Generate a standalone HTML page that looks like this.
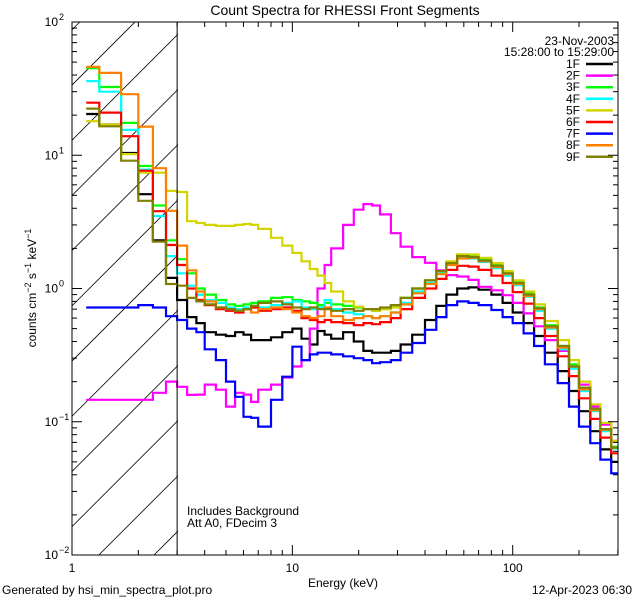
<!DOCTYPE html>
<html><head><meta charset="utf-8"><style>
html,body{margin:0;background:#fff;width:640px;height:600px;overflow:hidden;}
svg{display:block;font-family:"Liberation Sans",sans-serif;overflow:hidden;}
</style></head><body>
<svg id="chart" width="640" height="600" viewBox="0 0 640 600" xmlns="http://www.w3.org/2000/svg">
<rect width="640" height="600" fill="#fff"/>
<text x="345" y="15" font-size="14" text-anchor="middle">Count Spectra for RHESSI Front Segments</text>
<defs><clipPath id="hclip"><rect x="72" y="22" width="106" height="533"/></clipPath><clipPath id="pclip"><rect x="72" y="22" width="546" height="533"/></clipPath></defs>
<g id="hatch" clip-path="url(#hclip)"></g>
<g id="series" clip-path="url(#pclip)"></g>
<g id="axes"></g>
<text transform="translate(36,288) rotate(-90)" font-size="12" text-anchor="middle">counts cm<tspan dy="-5" font-size="9">−2</tspan><tspan dy="5"> s</tspan><tspan dy="-5" font-size="9">−1</tspan><tspan dy="5"> keV</tspan><tspan dy="-5" font-size="9">−1</tspan></text>
<text x="343" y="587" font-size="12" text-anchor="middle">Energy (keV)</text>
<text x="187" y="515" font-size="12">Includes Background</text>
<text x="187" y="527" font-size="12">Att A0, FDecim 3</text>
<text x="2" y="594" font-size="12">Generated by hsi_min_spectra_plot.pro</text>
<text x="632" y="594" font-size="12" text-anchor="end">12-Apr-2023 06:30</text>
<text x="614" y="45" font-size="12" text-anchor="end">23-Nov-2003</text>
<text x="614" y="56" font-size="12" text-anchor="end">15:28:00 to 15:29:00</text>
<g id="legend"></g>
</svg>
<script>
const edges = [1.16,1.33,1.67,2,2.33,2.67,3,3.33,3.67,4,4.5,5,5.5,6,6.5,7,8,9,10,11,12,13,14,15,17,19,21,23,25,28,31,35,40,45,50,56,63,70,80,90,100,112,125,140,160,180,200,225,250,280,300];
const seriesNames = ["1F","2F","3F","4F","5F","6F","7F","8F","9F"];
const seriesColors = ["#000000","#ff00ff","#00ff00","#00ffff","#d4d400","#ff0000","#0000ff","#ff8000","#808000"];
const s1F = [20.4,17,10.4,5.1,2.3,1.2,0.82,0.61,0.55,0.47,0.45,0.44,0.47,0.45,0.41,0.41,0.43,0.47,0.5,0.42,0.38,0.48,0.45,0.42,0.47,0.4,0.34,0.33,0.33,0.34,0.38,0.45,0.58,0.74,0.9,1.0,1.02,0.98,0.9,0.78,0.66,0.55,0.44,0.33,0.24,0.17,0.12,0.085,0.062,0.05];
const s2F = [0.146,0.146,0.146,0.146,0.165,0.2,0.183,0.159,0.16,0.19,0.174,0.13,0.165,0.16,0.141,0.174,0.19,0.215,0.26,0.29,0.5,1.0,1.5,2.0,3.0,3.9,4.3,4.2,3.6,2.6,2.06,1.72,1.56,1.37,1.26,1.23,1.16,1.03,0.97,0.89,0.78,0.65,0.52,0.41,0.34,0.26,0.19,0.13,0.095,0.072];
const s3F = [45,32.5,17.5,8.3,4.2,2.3,1.66,1.3,1.0,0.9,0.82,0.76,0.74,0.76,0.78,0.8,0.85,0.86,0.82,0.8,0.78,0.75,0.78,0.76,0.74,0.72,0.7,0.68,0.7,0.75,0.85,1.0,1.15,1.35,1.55,1.8,1.75,1.65,1.5,1.32,1.12,0.92,0.72,0.53,0.37,0.27,0.18,0.125,0.088,0.065];
const s4F = [36,30,15.5,7.8,3.5,1.75,1.3,1.05,0.9,0.82,0.78,0.72,0.7,0.72,0.74,0.72,0.75,0.78,0.8,0.72,0.7,0.72,0.82,0.7,0.66,0.64,0.62,0.6,0.62,0.66,0.78,0.95,1.1,1.3,1.5,1.7,1.68,1.58,1.42,1.25,1.06,0.87,0.68,0.5,0.35,0.25,0.17,0.12,0.085,0.063];
const s5F = [18,17,10.2,7.4,7.4,5.4,5.3,3.2,3.1,3.0,2.95,2.95,3.0,3.05,3.0,2.8,2.4,2.1,1.85,1.6,1.4,1.25,1.1,0.95,0.8,0.73,0.7,0.68,0.7,0.72,0.85,1.0,1.15,1.35,1.6,1.8,1.8,1.7,1.55,1.35,1.15,0.95,0.76,0.57,0.41,0.29,0.2,0.135,0.098,0.072];
const s6F = [24.8,20.9,13.9,7.66,3.8,2.12,1.5,1.0,0.82,0.75,0.7,0.68,0.66,0.7,0.72,0.68,0.7,0.72,0.68,0.6,0.58,0.56,0.58,0.56,0.55,0.53,0.55,0.54,0.56,0.6,0.7,0.85,1.0,1.18,1.38,1.48,1.46,1.38,1.25,1.1,0.94,0.77,0.6,0.44,0.31,0.22,0.15,0.105,0.076,0.058];
const s7F = [0.72,0.72,0.72,0.75,0.72,0.62,0.58,0.5,0.47,0.35,0.29,0.2,0.154,0.109,0.107,0.092,0.146,0.218,0.366,0.29,0.32,0.33,0.33,0.32,0.31,0.3,0.29,0.275,0.28,0.29,0.33,0.39,0.49,0.61,0.75,0.8,0.78,0.75,0.69,0.61,0.55,0.46,0.37,0.27,0.195,0.13,0.092,0.069,0.052,0.041];
const s8F = [46,41.5,28.7,16.4,8.0,3.83,2.1,1.37,0.95,0.8,0.72,0.7,0.68,0.7,0.66,0.7,0.72,0.7,0.66,0.62,0.6,0.62,0.72,0.62,0.58,0.6,0.62,0.6,0.62,0.66,0.76,0.92,1.08,1.28,1.5,1.68,1.7,1.6,1.45,1.28,1.08,0.88,0.7,0.51,0.36,0.26,0.175,0.122,0.087,0.064];
const s9F = [22.4,16.5,9.1,4.55,2.25,1.08,1.05,0.85,0.8,0.76,0.72,0.7,0.68,0.7,0.74,0.78,0.8,0.76,0.72,0.7,0.72,0.7,0.7,0.68,0.7,0.68,0.7,0.7,0.72,0.75,0.85,1.0,1.15,1.35,1.55,1.75,1.72,1.62,1.48,1.3,1.1,0.9,0.71,0.52,0.37,0.26,0.18,0.125,0.088,0.064];
const seriesValues = [s1F,s2F,s3F,s4F,s5F,s6F,s7F,s8F,s9F];
const xTickLabels = ["1","10","100"];
const yTickLabels = ["-2","-1","0","1","2"];

const NS="http://www.w3.org/2000/svg";
const L=72,R=618,T=22,B=555;
const xMin=0,xMax=Math.log10(300.5);
function xs(e){return L+(Math.log10(e)-xMin)/(xMax-xMin)*(R-L);}
function ys(v){return B-(Math.log10(v)+2)/4*(B-T);}
function mk(tag,attrs,parent){const el=document.createElementNS(NS,tag);for(const k in attrs)el.setAttribute(k,attrs[k]);parent.appendChild(el);return el;}

// hatch: lines x+y = 157 + 55.2k, kept within T..B vertically
const hatch=document.getElementById('hatch');
for(let k=-1;k<13;k++){
  const c=157+55.2*k;
  const ln=mk('line',{x1:c-B,y1:B,x2:c-T,y2:T,stroke:'#000','stroke-width':0.8},hatch);
  
  
}
const vl=mk('line',{x1:xs(3),y1:T,x2:xs(3),y2:B,stroke:'#000','stroke-width':1},document.getElementById('axes'));



// series
const sg=document.getElementById('series');
seriesValues.forEach((vals,si)=>{
  let d='';
  vals.forEach((v,i)=>{
    const x0=xs(edges[i]),x1=xs(edges[i+1]),y=ys(v);
    d+=(i===0?'M':'L')+x0.toFixed(1)+','+y.toFixed(1)+'L'+x1.toFixed(1)+','+y.toFixed(1);
  });
  const p=mk('path',{d:d,fill:'none',stroke:seriesColors[si],'stroke-width':2.2,'stroke-linejoin':'miter'},sg);
  
  
});

// axes
const ax=document.getElementById('axes');
const fr=mk('rect',{x:L,y:T,width:R-L,height:B-T,fill:'none',stroke:'#000','stroke-width':1},ax);


for(let dec=0;dec<3;dec++){
  for(let m=1;m<10;m++){
    const e=m*Math.pow(10,dec);
    if(e>300)break;
    const x=xs(e),len=m===1?10:5;
    const t1=mk('line',{x1:x,y1:B,x2:x,y2:B-len,stroke:'#000'},ax);
    
    
    const t2=mk('line',{x1:x,y1:T,x2:x,y2:T+len,stroke:'#000'},ax);
    
    
  }
}
xTickLabels.forEach((lab,i)=>{
  const t=mk('text',{x:xs(Math.pow(10,i)),y:572,'font-size':12,'text-anchor':'middle'},ax);
  t.textContent=lab;
  
  
});
for(let dec=-2;dec<2;dec++){
  for(let m=1;m<10;m++){
    const v=m*Math.pow(10,dec),y=ys(v),len=m===1?10:5;
    const t1=mk('line',{x1:L,y1:y,x2:L+len,y2:y,stroke:'#000'},ax);
    
    
    const t2=mk('line',{x1:R,y1:y,x2:R-len,y2:y,stroke:'#000'},ax);
    
    
  }
}
yTickLabels.forEach(lab=>{
  const y=ys(Math.pow(10,+lab));
  const t=mk('text',{x:58,y:y+4,'font-size':12,'text-anchor':'end'},ax);
  t.textContent='10';
  
  
  const s=mk('text',{x:59,y:y-2,'font-size':9},ax);
  s.textContent=lab.replace('-','−');
  
  
});

// legend
const lg=document.getElementById('legend');
seriesNames.forEach((n,i)=>{
  const y=68+i*11.6;
  const t=mk('text',{x:580,y:y,'font-size':12,'text-anchor':'end'},lg);
  t.textContent=n;
  
  
  const l=mk('line',{x1:586,y1:y-4,x2:613,y2:y-4,stroke:seriesColors[i],'stroke-width':2.5},lg);
  
  
});
</script>
</body></html>
